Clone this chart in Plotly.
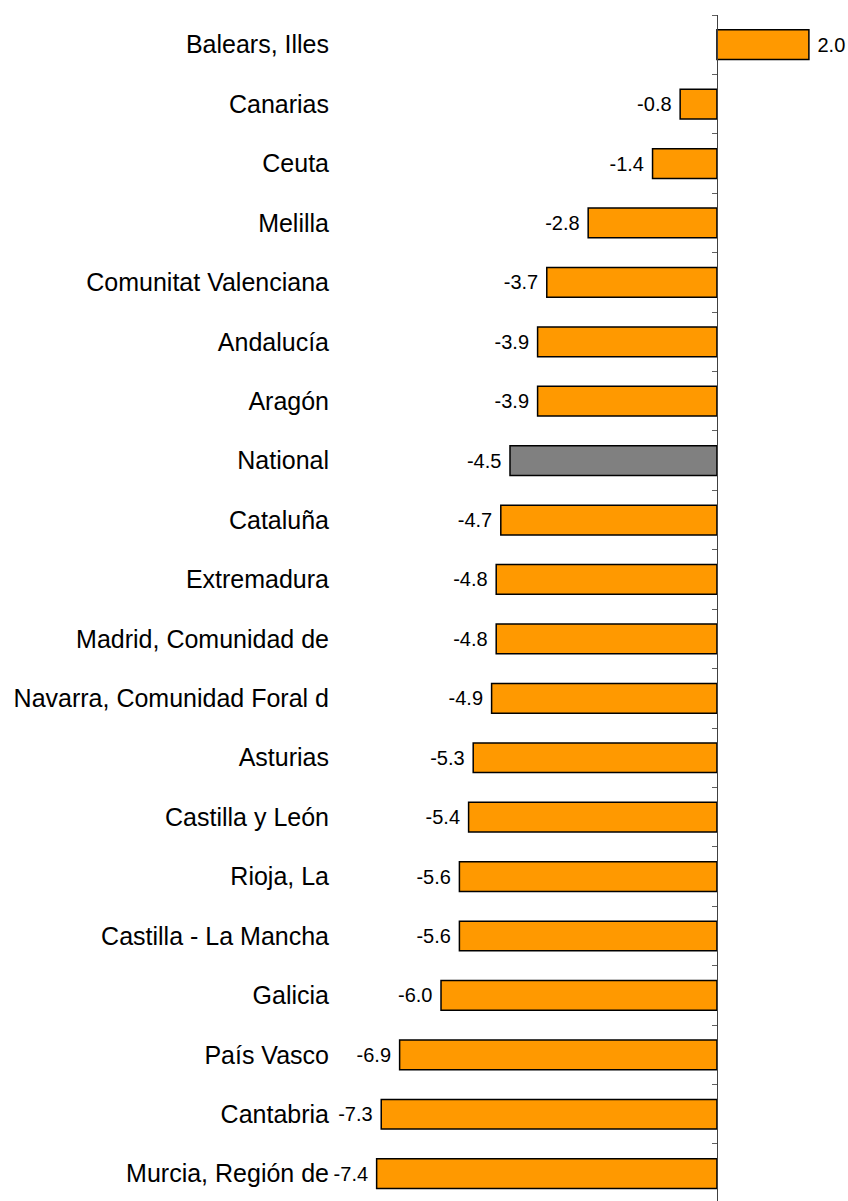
import plotly.graph_objects as go

categories = [
    "Balears, Illes", "Canarias", "Ceuta", "Melilla", "Comunitat Valenciana",
    "Andalucía", "Aragón", "National", "Cataluña", "Extremadura",
    "Madrid, Comunidad de", "Navarra, Comunidad Foral d", "Asturias",
    "Castilla y León", "Rioja, La", "Castilla - La Mancha", "Galicia",
    "País Vasco", "Cantabria", "Murcia, Región de",
]
values = [2.0, -0.8, -1.4, -2.8, -3.7, -3.9, -3.9, -4.5, -4.7, -4.8,
          -4.8, -4.9, -5.3, -5.4, -5.6, -5.6, -6.0, -6.9, -7.3, -7.4]

highlight = "National"
bar_color = "#FF9900"
highlight_color = "#808080"

colors = [highlight_color if c == highlight else bar_color for c in categories]
texts = [(" " + f"{v:.1f}") if v >= 0 else (f"{v:.1f}" + " ") for v in values]

n = len(categories)
y_range = [n - 0.54, -0.5]

W, H = 848, 1201
ML = 338
x_range = [-8.24, 2.85]
zero_pos = (0 - x_range[0]) / (x_range[1] - x_range[0])

fig = go.Figure()
fig.add_trace(go.Bar(
    x=values, y=categories, orientation="h",
    marker=dict(color=colors, line=dict(color="#000000", width=1.5)),
    width=0.5,
    text=texts, textposition="outside", cliponaxis=False,
    constraintext="none",
    textfont=dict(family="Liberation Sans, Arial", size=20, color="#000000"),
    hoverinfo="skip", showlegend=False,
))
# helper trace to attach the zero-position axis with boundary ticks
fig.add_trace(go.Scatter(
    x=[None], y=[None], yaxis="y2", mode="markers",
    showlegend=False, hoverinfo="skip",
))

fig.update_layout(
    width=W, height=H,
    margin=dict(l=ML, r=0, t=15, b=0),
    paper_bgcolor="white", plot_bgcolor="white",
    font=dict(family="Liberation Sans, Arial", color="#000000"),
    xaxis=dict(range=x_range, showgrid=False, zeroline=False,
               showticklabels=False, ticks="", showline=False),
    yaxis=dict(type="category", categoryorder="array", categoryarray=categories,
               range=y_range, showgrid=False, zeroline=False, showline=False,
               ticks="", ticklabelstandoff=8,
               tickfont=dict(family="Liberation Sans, Arial", size=25, color="#000000")),
    yaxis2=dict(overlaying="y", anchor="free", side="left",
                position=zero_pos,
                range=y_range, showgrid=False, zeroline=False,
                showline=True, linecolor="#404040", linewidth=1,
                ticks="outside", ticklen=5, tickcolor="#606060", tickwidth=1,
                tickvals=[i - 0.5 for i in range(n)], showticklabels=False),
    bargap=0.5,
)

fig.write_html(
    "out.html",
    config={"displayModeBar": False},
    post_script="document.body.style.margin='0';document.body.style.overflow='hidden';",
)
